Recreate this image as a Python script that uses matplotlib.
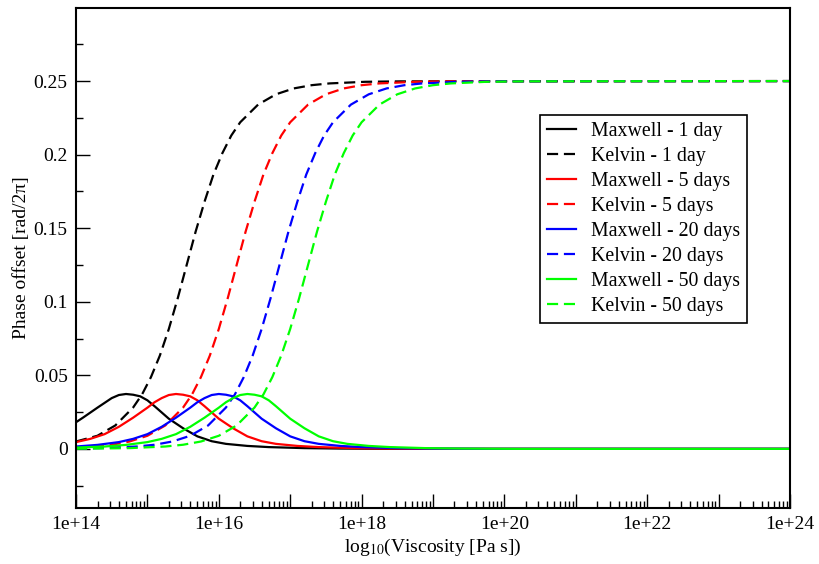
import matplotlib
matplotlib.use('Agg')
import matplotlib.pyplot as plt
import numpy as np
from matplotlib.ticker import FixedLocator, FuncFormatter, LogLocator, NullFormatter

plt.rcParams['font.family'] = ['Liberation Serif', 'DejaVu Serif']
plt.rcParams['mathtext.fontset'] = 'stix'

# log10(viscosity [Pa s]) and phase offset [rad/2pi]
maxwell_1_x = [14.0, 14.1, 14.3, 14.5, 14.6, 14.7, 14.8, 14.9, 15.0, 15.1, 15.3, 15.5, 15.7, 15.9, 16.1, 16.4, 16.7, 17.2, 17.7, 18.5, 24.0]
maxwell_1_y = [0.0181, 0.0213, 0.0280, 0.0345, 0.0366, 0.0373, 0.0368, 0.0357, 0.0330, 0.0290, 0.0205, 0.0140, 0.0085, 0.0052, 0.0034, 0.0020, 0.0012, 0.0005, 0.0002, 0.0, 0.0]

maxwell_5_x = [14.0, 14.2, 14.4, 14.6, 14.8, 15.0, 15.1, 15.2, 15.3, 15.4, 15.5, 15.6, 15.7, 15.8, 16.0, 16.2, 16.4, 16.6, 16.8, 17.1, 17.4, 17.9, 18.4, 19.2, 24.0]
maxwell_5_y = [0.0046, 0.0068, 0.0100, 0.0150, 0.0212, 0.0280, 0.0317, 0.0345, 0.0366, 0.0373, 0.0368, 0.0357, 0.0330, 0.0290, 0.0205, 0.0140, 0.0085, 0.0052, 0.0034, 0.0020, 0.0012, 0.0005, 0.0002, 0.0, 0.0]

maxwell_20_x = [14.0, 14.3, 14.6, 14.8, 15.0, 15.2, 15.4, 15.6, 15.7, 15.8, 15.9, 16.0, 16.1, 16.2, 16.3, 16.4, 16.6, 16.8, 17.0, 17.2, 17.4, 17.7, 18.0, 18.5, 19.0, 19.8, 24.0]
maxwell_20_y = [0.0016, 0.0027, 0.0046, 0.0068, 0.0100, 0.0150, 0.0212, 0.0280, 0.0317, 0.0345, 0.0366, 0.0373, 0.0368, 0.0357, 0.0330, 0.0290, 0.0205, 0.0140, 0.0085, 0.0052, 0.0034, 0.0020, 0.0012, 0.0005, 0.0002, 0.0, 0.0]

maxwell_50_x = [14.0, 14.4, 14.7, 15.0, 15.2, 15.4, 15.6, 15.8, 16.0, 16.1, 16.2, 16.3, 16.4, 16.5, 16.6, 16.7, 16.8, 17.0, 17.2, 17.4, 17.6, 17.8, 18.1, 18.4, 18.9, 19.4, 20.2, 24.0]
maxwell_50_y = [0.0009, 0.0016, 0.0027, 0.0046, 0.0068, 0.0100, 0.0150, 0.0212, 0.0280, 0.0317, 0.0345, 0.0366, 0.0373, 0.0368, 0.0357, 0.0330, 0.0290, 0.0205, 0.0140, 0.0085, 0.0052, 0.0034, 0.0020, 0.0012, 0.0005, 0.0002, 0.0, 0.0]

kelvin_1_x = [14.0, 14.3, 14.55, 14.8, 14.925, 15.05, 15.175, 15.3, 15.425, 15.55, 15.675, 15.8, 15.925, 16.05, 16.175, 16.3, 16.55, 16.8, 17.05, 17.3, 17.55, 18.05, 18.55, 24.0]
kelvin_1_y = [0.0050, 0.0089, 0.0159, 0.0281, 0.0370, 0.0488, 0.0635, 0.0815, 0.1024, 0.125, 0.1476, 0.168, 0.1865, 0.201, 0.213, 0.222, 0.234, 0.241, 0.245, 0.2472, 0.2484, 0.2495, 0.2498, 0.25]

kelvin_5_x = [14.0, 14.25, 14.5, 14.75, 15.0, 15.25, 15.5, 15.625, 15.75, 15.875, 16.0, 16.125, 16.25, 16.375, 16.5, 16.625, 16.75, 16.875, 17.0, 17.25, 17.5, 17.75, 18.0, 18.25, 18.75, 19.25, 24.0]
kelvin_5_y = [0.0009, 0.0016, 0.0028, 0.0050, 0.0089, 0.0159, 0.0281, 0.0370, 0.0488, 0.0635, 0.0815, 0.1024, 0.125, 0.1476, 0.168, 0.1865, 0.201, 0.213, 0.222, 0.234, 0.241, 0.245, 0.2472, 0.2484, 0.2495, 0.2498, 0.25]

kelvin_20_x = [14.0, 14.35, 14.85, 15.1, 15.35, 15.6, 15.85, 16.1, 16.225, 16.35, 16.475, 16.6, 16.725, 16.85, 16.975, 17.1, 17.225, 17.35, 17.475, 17.6, 17.85, 18.1, 18.35, 18.6, 18.85, 19.35, 19.85, 24.0]
kelvin_20_y = [0.0002, 0.0005, 0.0016, 0.0028, 0.0050, 0.0089, 0.0159, 0.0281, 0.0370, 0.0488, 0.0635, 0.0815, 0.1024, 0.125, 0.1476, 0.168, 0.1865, 0.201, 0.213, 0.222, 0.234, 0.241, 0.245, 0.2472, 0.2484, 0.2495, 0.2498, 0.25]

kelvin_50_x = [14.0, 14.75, 15.25, 15.5, 15.75, 16.0, 16.25, 16.5, 16.625, 16.75, 16.875, 17.0, 17.125, 17.25, 17.375, 17.5, 17.625, 17.75, 17.875, 18.0, 18.25, 18.5, 18.75, 19.0, 19.25, 19.75, 20.25, 24.0]
kelvin_50_y = [0.0001, 0.0005, 0.0016, 0.0028, 0.0050, 0.0089, 0.0159, 0.0281, 0.0370, 0.0488, 0.0635, 0.0815, 0.1024, 0.125, 0.1476, 0.168, 0.1865, 0.201, 0.213, 0.222, 0.234, 0.241, 0.245, 0.2472, 0.2484, 0.2495, 0.2498, 0.25]

series = [
    ('Maxwell - 1 day', maxwell_1_x, maxwell_1_y, 'black', '-'),
    ('Kelvin - 1 day', kelvin_1_x, kelvin_1_y, 'black', '--'),
    ('Maxwell - 5 days', maxwell_5_x, maxwell_5_y, 'red', '-'),
    ('Kelvin - 5 days', kelvin_5_x, kelvin_5_y, 'red', '--'),
    ('Maxwell - 20 days', maxwell_20_x, maxwell_20_y, 'blue', '-'),
    ('Kelvin - 20 days', kelvin_20_x, kelvin_20_y, 'blue', '--'),
    ('Maxwell - 50 days', maxwell_50_x, maxwell_50_y, '#00ff00', '-'),
    ('Kelvin - 50 days', kelvin_50_x, kelvin_50_y, '#00ff00', '--'),
]

fig = plt.figure(figsize=(8.2, 5.64), dpi=100)
ax = fig.add_axes([0.0927, 0.0998, 0.8707, 0.8869])

for label, x, y, color, style in series:
    line, = ax.plot(10 ** np.array(x), y, color=color, linestyle=style, lw=1.6, label=label)
    if style == '--':
        line.set_dashes((5, 2.6))

ax.set_xscale('log')
ax.set_xlim(1e14, 1e24)
ax.set_ylim(-0.04, 0.3)

ax.xaxis.set_major_locator(FixedLocator([10.0 ** k for k in range(14, 25)]))
ax.xaxis.set_major_formatter(FuncFormatter(lambda v, p: f'1e+{int(round(np.log10(v)))}' if int(round(np.log10(v))) % 2 == 0 else ''))
ax.xaxis.set_minor_locator(LogLocator(base=10, subs=np.arange(2, 10), numticks=100))
ax.xaxis.set_minor_formatter(NullFormatter())

ax.yaxis.set_major_locator(FixedLocator([0, 0.05, 0.1, 0.15, 0.2, 0.25]))
ax.yaxis.set_major_formatter(FuncFormatter(lambda v, p: f'{v:g}'))
ax.yaxis.set_minor_locator(FixedLocator([-0.025, 0.025, 0.075, 0.125, 0.175, 0.225, 0.275]))

ax.tick_params(which='both', direction='in', top=False, right=False, labelsize=14, width=1, pad=6)
ax.tick_params(which='major', length=10)
ax.tick_params(which='minor', length=5)
for spine in ax.spines.values():
    spine.set_linewidth(1.5)

ax.set_xlabel('log$_{10}$(Viscosity [Pa s])', fontsize=14, labelpad=3)
ax.set_ylabel('Phase offset [rad/2π]', fontsize=14, labelpad=3)

leg = ax.legend(loc='upper left', bbox_to_anchor=(0.6585, 0.796), bbox_transform=fig.transFigure,
                fontsize=14.3, frameon=True, fancybox=False, edgecolor='black', framealpha=1,
                handlelength=1.45, handletextpad=0.75, labelspacing=0.3, borderpad=0.35,
                borderaxespad=0)
leg.get_frame().set_linewidth(1.2)

fig.savefig('out.png', dpi=100)
